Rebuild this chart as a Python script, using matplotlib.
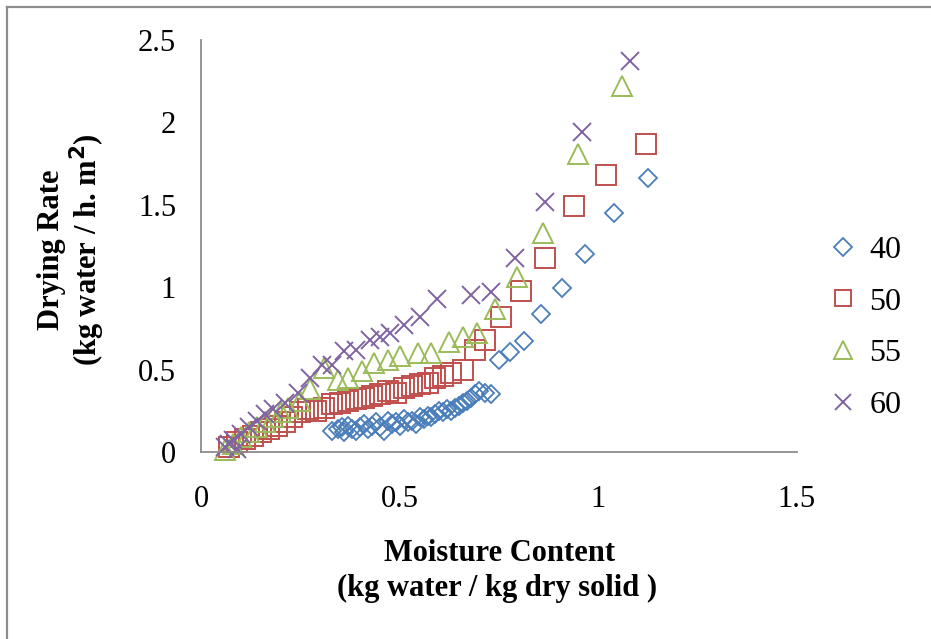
import matplotlib
matplotlib.use("Agg")
import matplotlib.pyplot as plt
from matplotlib.lines import Line2D

plt.rcParams['font.family'] = ['Liberation Serif', 'DejaVu Serif']

# drying temperature series (moisture content, drying rate)
x40 = [0.33, 0.345, 0.355, 0.36, 0.37, 0.38, 0.39, 0.40, 0.41, 0.42, 0.43, 0.44, 0.45, 0.46,
       0.47, 0.48, 0.49, 0.50, 0.51, 0.52, 0.53, 0.54, 0.55, 0.56, 0.57, 0.58, 0.59, 0.60,
       0.61, 0.62, 0.63, 0.64, 0.65, 0.66, 0.67, 0.68, 0.69, 0.70, 0.715, 0.73,
       0.75, 0.778, 0.813, 0.856, 0.909, 0.966, 1.04, 1.125]
y40 = [0.13, 0.14, 0.15, 0.12, 0.16, 0.14, 0.13, 0.15, 0.17, 0.14, 0.16, 0.18, 0.15, 0.13,
       0.19, 0.17, 0.18, 0.16, 0.20, 0.18, 0.19, 0.17, 0.21, 0.20, 0.22, 0.21, 0.23, 0.25,
       0.24, 0.26, 0.25, 0.27, 0.28, 0.30, 0.31, 0.33, 0.35, 0.37, 0.36, 0.35,
       0.56, 0.607, 0.675, 0.837, 0.995, 1.20, 1.45, 1.66]

x50 = [0.07, 0.09, 0.11, 0.13, 0.15, 0.17, 0.19, 0.21, 0.23, 0.25, 0.27, 0.29, 0.31, 0.33,
       0.35, 0.37, 0.39, 0.41, 0.43, 0.45, 0.47, 0.49, 0.51, 0.53, 0.55, 0.57, 0.59, 0.61,
       0.63, 0.66, 0.69, 0.715, 0.755, 0.805, 0.865, 0.94, 1.02, 1.12]
y50 = [0.03, 0.06, 0.08, 0.10, 0.12, 0.14, 0.16, 0.18, 0.21, 0.24, 0.26, 0.25, 0.27, 0.29,
       0.30, 0.31, 0.32, 0.33, 0.34, 0.35, 0.37, 0.36, 0.39, 0.40, 0.41, 0.42, 0.45, 0.46,
       0.48, 0.50, 0.62, 0.68, 0.82, 0.98, 1.18, 1.49, 1.68, 1.87]

x55 = [0.06, 0.08, 0.10, 0.12, 0.14, 0.16, 0.18, 0.20, 0.22, 0.25, 0.275, 0.31, 0.345, 0.37,
       0.405, 0.435, 0.47, 0.50, 0.545, 0.58, 0.625, 0.66, 0.695, 0.74, 0.795, 0.86, 0.95, 1.06]
y55 = [0.01, 0.05, 0.09, 0.12, 0.15, 0.18, 0.21, 0.24, 0.27, 0.31, 0.38, 0.51, 0.44, 0.45,
       0.49, 0.54, 0.56, 0.58, 0.60, 0.60, 0.67, 0.70, 0.72, 0.87, 1.06, 1.33, 1.81, 2.22]

x60 = [0.06, 0.07, 0.08, 0.09, 0.10, 0.12, 0.14, 0.16, 0.18, 0.21, 0.245, 0.275, 0.305, 0.33,
       0.36, 0.39, 0.425, 0.45, 0.475, 0.51, 0.55, 0.595, 0.68, 0.73, 0.79, 0.865, 0.96, 1.08]
y60 = [0.03, 0.05, 0.07, 0.02, 0.11, 0.15, 0.19, 0.23, 0.26, 0.30, 0.36, 0.45, 0.53, 0.53,
       0.61, 0.62, 0.68, 0.70, 0.72, 0.77, 0.82, 0.93, 0.95, 0.97, 1.18, 1.52, 1.94, 2.37]

fig = plt.figure(figsize=(9.31, 6.39), dpi=100)
ax = fig.add_axes([0.216, 0.2926, 0.640, 0.6448])

ax.plot(x40, y40, 'D', ms=9.5, mfc='none', mec='#4A7EBB', mew=1.3, label='40', clip_on=False)
ax.plot(x50, y50, 's', ms=14, mfc='none', mec='#C0504D', mew=1.4, label='50', clip_on=False)
ax.plot(x55, y55, '^', ms=14, mfc='none', mec='#9BBB59', mew=1.4, label='55', clip_on=False)
ax.plot(x60, y60, 'x', ms=13.5, mec='#8064A2', mew=1.4, label='60', clip_on=False)

ax.set_xlim(0, 1.5)
ax.set_ylim(0, 2.5)
ax.set_xticks([0, 0.5, 1, 1.5])
ax.set_xticklabels(['0', '0.5', '1', '1.5'])
ax.set_yticks([0, 0.5, 1, 1.5, 2, 2.5])
ax.set_yticklabels(['0', '0.5', '1', '1.5', '2', '2.5'])
ax.tick_params(axis='both', length=0, labelsize=22)
ax.tick_params(axis='x', pad=24)
ax.tick_params(axis='y', pad=18)
for s in ['top', 'right']:
    ax.spines[s].set_visible(False)
for s in ['left', 'bottom']:
    ax.spines[s].set_color('#8c8c8c')
    ax.spines[s].set_linewidth(1.3)

fig.text(0.055, 0.609, 'Drying Rate', rotation=90, ha='center', va='center',
         fontsize=22, fontweight='bold')
fig.text(0.094, 0.609, '(kg water / h. m$^\\mathbf{2}$)', rotation=90, ha='center', va='center',
         fontsize=22, fontweight='bold')
fig.text(0.537, 0.134, 'Moisture Content', ha='center', va='center',
         fontsize=22, fontweight='bold')
fig.text(0.534, 0.079, '(kg water / kg dry solid )', ha='center', va='center',
         fontsize=22, fontweight='bold')

handles = [Line2D([], [], ls='none', marker='D', ms=9, mfc='none', mec='#4A7EBB', mew=1.3),
           Line2D([], [], ls='none', marker='s', ms=12, mfc='none', mec='#C0504D', mew=1.4),
           Line2D([], [], ls='none', marker='^', ms=13, mfc='none', mec='#9BBB59', mew=1.4),
           Line2D([], [], ls='none', marker='x', ms=12, mec='#8064A2', mew=1.4)]
fig.legend(handles, ['40', '50', '55', '60'], loc='center left',
           bbox_to_anchor=(0.859, 0.487), frameon=False, fontsize=23,
           handlelength=0.9, handletextpad=0.38, labelspacing=0.7)

# outer frame (top and left only visible)
fig.add_artist(Line2D([7/931, 7/931], [0, 1 - 7/639], transform=fig.transFigure,
                      color='#8c8c8c', lw=1.6))
fig.add_artist(Line2D([7/931, 1], [1 - 7/639, 1 - 7/639], transform=fig.transFigure,
                      color='#8c8c8c', lw=1.6))

plt.savefig('out.png', dpi=100)
